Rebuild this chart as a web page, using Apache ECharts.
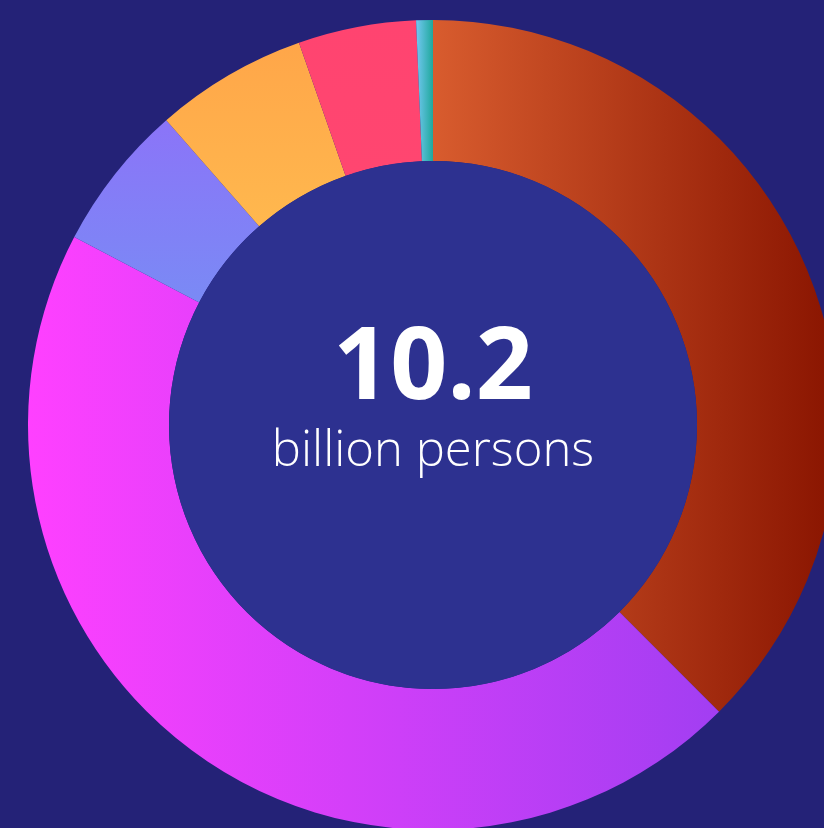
<!DOCTYPE html>
<html><head><meta charset="utf-8">
<script src="https://cdn.jsdelivr.net/npm/echarts@6/dist/echarts.min.js"></script>
<style>html,body{margin:0;padding:0;background:#242277;}#c{width:824px;height:828px;}</style>
</head><body><div id="c"></div>
<script>
var categories = ['Africa', 'Asia', 'Europe', 'Latin America', 'North America', 'Oceania'];
var values = [3.83, 4.61, 0.60, 0.62, 0.48, 0.068];
var totalLabel = '10.2';
var unitLabel = 'billion persons';

function lg(x2, y2, c0, c1) {
  return {type: 'linear', x: 0, y: 0, x2: x2, y2: y2, colorStops: [{offset: 0, color: c0}, {offset: 1, color: c1}]};
}
var colors = [
  lg(1, 0, '#d85c2e', '#891400'),
  lg(1, 0, '#ff40ff', '#a23ef2'),
  lg(0, 1, '#8b74f8', '#7a8af5'),
  lg(0, 1, '#ffa649', '#ffb84e'),
  lg(0, 1, '#ff4470', '#ff4670'),
  lg(1, 0, '#74c8f2', '#1fa89c')
];

var chart = echarts.init(document.getElementById('c'), null, {renderer: 'canvas'});
chart.setOption({
  backgroundColor: '#242277',
  animation: false,
  series: [
    {
      type: 'pie',
      center: [433, 425],
      radius: [264, 405],
      startAngle: 90,
      clockwise: true,
      silent: true,
      label: {show: false},
      labelLine: {show: false},
      itemStyle: {borderWidth: 0},
      data: categories.map(function (c, i) {
        return {name: c, value: values[i], itemStyle: {color: colors[i]}};
      })
    },
    {
      type: 'pie',
      center: [433, 425],
      radius: [0, 264],
      silent: true,
      label: {
        show: true,
        position: 'center',
        padding: [0, 0, 46, 0],
        formatter: '{a|' + totalLabel + '}\n{b|' + unitLabel + '}',
        rich: {
          a: {fontFamily: 'Open Sans', fontWeight: 'bold', fontSize: 100, color: '#ffffff', lineHeight: 100},
          b: {fontFamily: 'Open Sans', fontWeight: 300, fontSize: 49, color: '#ffffff', lineHeight: 62}
        }
      },
      labelLine: {show: false},
      data: [{name: 'total', value: 1, itemStyle: {color: '#2d3190'}}]
    }
  ]
});
</script>
</body></html>
